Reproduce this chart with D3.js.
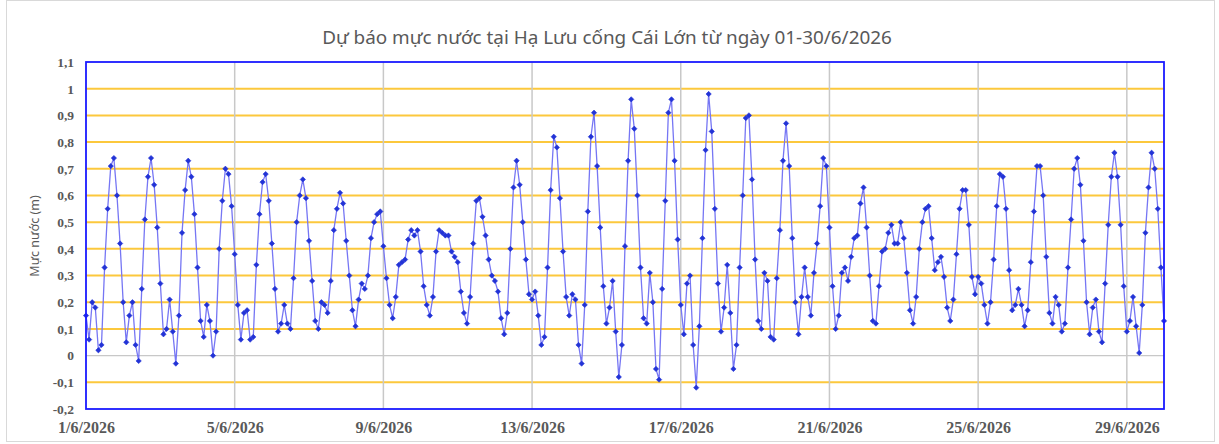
<!DOCTYPE html>
<html>
<head>
<meta charset="utf-8">
<script src="https://cdn.jsdelivr.net/npm/d3@7"></script>
<style>
  html, body { margin: 0; padding: 0; background: #ffffff; }
  svg { display: block; }
</style>
</head>
<body>
<svg id="chart" width="1219" height="444"></svg>
<script>
// ---------------- DATA ----------------
const chartTitle = "Dự báo mực nước tại Hạ Lưu cống Cái Lớn từ ngày 01-30/6/2026";
const yAxisTitle = "Mực nước (m)";
const startDateUTC = [2026, 5, 1];     // 1/6/2026 00:00
const stepHours = 2;                   // one value every 2 hours
// water level (m), 1/6/2026 00:00 -> 30/6/2026 00:00
const waterLevel = [
  0.15, 0.06, 0.20, 0.18, 0.02, 0.04, 0.33, 0.55, 0.71, 0.74,
  0.60, 0.42, 0.20, 0.05, 0.15, 0.20, 0.04, -0.02, 0.25, 0.51,
  0.67, 0.74, 0.64, 0.48, 0.27, 0.08, 0.10, 0.21, 0.09, -0.03,
  0.15, 0.46, 0.62, 0.73, 0.67, 0.53, 0.33, 0.13, 0.07, 0.19,
  0.13, 0.00, 0.09, 0.40, 0.58, 0.70, 0.68, 0.56, 0.38, 0.19,
  0.06, 0.16, 0.17, 0.06, 0.07, 0.34, 0.53, 0.65, 0.68, 0.58,
  0.42, 0.25, 0.09, 0.12, 0.19, 0.12, 0.10, 0.29, 0.50, 0.60,
  0.66, 0.59, 0.43, 0.28, 0.13, 0.10, 0.20, 0.19, 0.16, 0.28,
  0.47, 0.55, 0.61, 0.57, 0.43, 0.30, 0.17, 0.11, 0.21, 0.27,
  0.25, 0.30, 0.44, 0.50, 0.53, 0.54, 0.41, 0.29, 0.19, 0.14,
  0.22, 0.34, 0.35, 0.36, 0.435, 0.47, 0.45, 0.47, 0.39, 0.26,
  0.19, 0.15, 0.22, 0.39, 0.47, 0.46, 0.45, 0.45, 0.39, 0.37,
  0.35, 0.24, 0.16, 0.12, 0.22, 0.42, 0.58, 0.59, 0.52, 0.45,
  0.36, 0.30, 0.28, 0.24, 0.14, 0.08, 0.16, 0.40, 0.63, 0.73,
  0.64, 0.50, 0.36, 0.23, 0.21, 0.24, 0.15, 0.04, 0.07, 0.33,
  0.62, 0.82, 0.78, 0.59, 0.39, 0.22, 0.15, 0.23, 0.21, 0.04,
  -0.03, 0.19, 0.54, 0.82, 0.91, 0.71, 0.48, 0.26, 0.12, 0.18,
  0.28, 0.09, -0.08, 0.04, 0.41, 0.73, 0.96, 0.85, 0.60, 0.33,
  0.14, 0.12, 0.31, 0.20, -0.05, -0.09, 0.25, 0.58, 0.91, 0.96,
  0.73, 0.435, 0.19, 0.08, 0.27, 0.30, 0.04, -0.12, 0.11, 0.44,
  0.77, 0.98, 0.84, 0.55, 0.27, 0.09, 0.18, 0.34, 0.16, -0.05,
  0.04, 0.33, 0.60, 0.89, 0.90, 0.66, 0.36, 0.13, 0.10, 0.31,
  0.28, 0.07, 0.06, 0.29, 0.47, 0.73, 0.87, 0.71, 0.44, 0.20,
  0.08, 0.22, 0.33, 0.22, 0.15, 0.31, 0.42, 0.56, 0.74, 0.71,
  0.48, 0.26, 0.10, 0.15, 0.31, 0.33, 0.28, 0.37, 0.44, 0.45,
  0.57, 0.63, 0.48, 0.30, 0.13, 0.12, 0.26, 0.39, 0.40, 0.46,
  0.49, 0.42, 0.42, 0.50, 0.44, 0.31, 0.17, 0.12, 0.22, 0.40,
  0.50, 0.55, 0.56, 0.44, 0.32, 0.35, 0.37, 0.295, 0.18, 0.13,
  0.21, 0.38, 0.55, 0.62, 0.62, 0.49, 0.295, 0.23, 0.295, 0.27,
  0.19, 0.12, 0.20, 0.36, 0.56, 0.68, 0.67, 0.55, 0.32, 0.17,
  0.19, 0.25, 0.19, 0.11, 0.17, 0.35, 0.54, 0.71, 0.71, 0.60,
  0.37, 0.16, 0.12, 0.22, 0.19, 0.09, 0.12, 0.33, 0.51, 0.70,
  0.74, 0.64, 0.43, 0.20, 0.08, 0.18, 0.21, 0.09, 0.05, 0.27,
  0.49, 0.67, 0.76, 0.67, 0.49, 0.26, 0.09, 0.13, 0.22, 0.11,
  0.01, 0.19, 0.46, 0.63, 0.76, 0.70, 0.55, 0.33, 0.13
];
const xTickDays = [1, 5, 9, 13, 17, 21, 25, 29];
const xTickLabels = ["1/6/2026", "5/6/2026", "9/6/2026", "13/6/2026", "17/6/2026", "21/6/2026", "25/6/2026", "29/6/2026"];
const yTicks = [-0.2, -0.1, 0, 0.1, 0.2, 0.3, 0.4, 0.5, 0.6, 0.7, 0.8, 0.9, 1, 1.1];
const yTickLabels = ["-0,2", "-0,1", "0", "0,1", "0,2", "0,3", "0,4", "0,5", "0,6", "0,7", "0,8", "0,9", "1", "1,1"];

// ---------------- LAYOUT ----------------
const W = 1219, H = 444;
const plot = { left: 86, right: 1164, top: 62, bottom: 409 };
const svg = d3.select("#chart");

const t0 = Date.UTC(startDateUTC[0], startDateUTC[1], startDateUTC[2]);
const HOUR = 3600 * 1000;
const points = waterLevel.map((v, i) => ({ t: new Date(t0 + i * stepHours * HOUR), v }));

const x = d3.scaleUtc()
  .domain([points[0].t, points[points.length - 1].t])
  .range([plot.left, plot.right]);
const y = d3.scaleLinear().domain([-0.2, 1.1]).range([plot.bottom, plot.top]);

// outer chart frame
svg.append("rect")
  .attr("x", 6.5).attr("y", 0.5).attr("width", 1208).attr("height", 441)
  .attr("fill", "#ffffff").attr("stroke", "#d9d9d9").attr("stroke-width", 1);

// title
svg.append("text")
  .attr("x", 607).attr("y", 44)
  .attr("text-anchor", "middle")
  .attr("font-family", "'Noto Sans', 'Open Sans', sans-serif")
  .attr("font-size", 18.9)
  .attr("fill", "#595959")
  .text(chartTitle);

// horizontal gridlines
const gGrid = svg.append("g");
gGrid.selectAll("line.h")
  .data(yTicks.filter(v => v > -0.2 + 1e-9 && v < 1.1 - 1e-9))
  .join("line")
  .attr("x1", plot.left).attr("x2", plot.right)
  .attr("y1", d => y(d)).attr("y2", d => y(d))
  .attr("stroke", d => Math.abs(d) < 1e-9 ? "#c8c8c8" : "#fcc83c")
  .attr("stroke-width", d => Math.abs(d) < 1e-9 ? 1.3 : 2);

// vertical gridlines
const tickDates = xTickDays.map(d => new Date(Date.UTC(startDateUTC[0], startDateUTC[1], d)));
gGrid.selectAll("line.v")
  .data(tickDates.slice(1))
  .join("line")
  .attr("x1", d => x(d)).attr("x2", d => x(d))
  .attr("y1", plot.top).attr("y2", plot.bottom)
  .attr("stroke", "#c8c8c8").attr("stroke-width", 1.5);

// x axis labels
const xAxis = d3.axisBottom(x)
  .tickValues(tickDates)
  .tickFormat((d, i) => xTickLabels[i])
  .tickSize(0).tickPadding(0);
const gx = svg.append("g").attr("transform", `translate(0,${plot.bottom})`).call(xAxis);
gx.select(".domain").remove();
gx.selectAll("text")
  .attr("dy", null).attr("y", 24)
  .attr("font-family", "'Liberation Serif', 'Times New Roman', serif")
  .attr("font-weight", "bold").attr("font-size", 16).attr("fill", "#595959");

// y axis labels
const yAxis = d3.axisLeft(y)
  .tickValues(yTicks)
  .tickFormat((d, i) => yTickLabels[i])
  .tickSize(0).tickPadding(0);
const gy = svg.append("g").attr("transform", `translate(${plot.left - 12},0)`).call(yAxis);
gy.select(".domain").remove();
gy.selectAll("text")
  .attr("font-family", "'Liberation Serif', 'Times New Roman', serif")
  .attr("font-weight", "bold").attr("font-size", 13.5).attr("fill", "#595959");

// y axis title
svg.append("text")
  .attr("transform", `translate(39,236) rotate(-90)`)
  .attr("text-anchor", "middle")
  .attr("font-family", "'Noto Sans', 'Open Sans', sans-serif")
  .attr("font-size", 12.5)
  .attr("fill", "#595959")
  .text(yAxisTitle);

// series line
const line = d3.line().x(d => x(d.t)).y(d => y(d.v));
svg.append("path")
  .datum(points)
  .attr("d", line)
  .attr("fill", "none")
  .attr("stroke", "#7676f4")
  .attr("stroke-width", 1.3)
  .attr("stroke-linejoin", "round");

// markers
const marker = d3.symbol(d3.symbolDiamond2, 18);
svg.append("g").selectAll("path")
  .data(points)
  .join("path")
  .attr("transform", d => `translate(${x(d.t)},${y(d.v)})`)
  .attr("d", marker)
  .attr("fill", "#2233d6")
  .attr("stroke", "#2233d6")
  .attr("stroke-width", 0.6);

// plot border
svg.append("rect")
  .attr("x", plot.left).attr("y", plot.top)
  .attr("width", plot.right - plot.left).attr("height", plot.bottom - plot.top)
  .attr("fill", "none").attr("stroke", "#1a1aff").attr("stroke-width", 1.8);
</script>
</body>
</html>
